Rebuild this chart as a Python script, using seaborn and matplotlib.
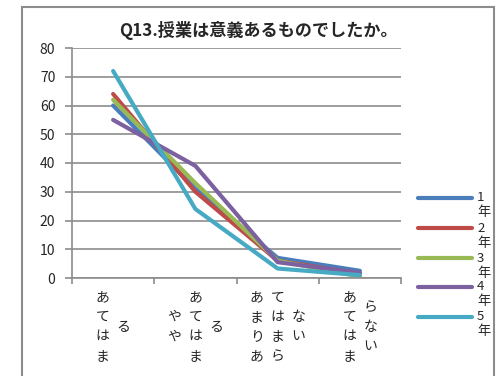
import numpy as np
import pandas as pd
import matplotlib
matplotlib.use("Agg")
import matplotlib.pyplot as plt
import seaborn as sns
from matplotlib.patches import Rectangle

# Survey answers (percent) per school year
categories = ["あてはまる", "ややあてはまる", "あまりあてはまらない", "あてはまらない"]
# how each category label wraps into vertical columns (left to right)
label_columns = [["あてはま", "る"],
                 ["やや", "あてはま", "る"],
                 ["あまりあ", "てはまら", "ない"],
                 ["あてはま", "らない"]]
years = ["1年", "2年", "3年", "4年", "5年"]
year1 = [60, 31, 7, 2.5]
year2 = [64, 30, 6, 1.5]
year3 = [62, 33, 6, 0.5]
year4 = [55, 39, 5.5, 1.8]
year5 = [72, 24, 3.3, 1]
colors = ["#4A7EBB", "#BE4B48", "#98B954", "#7D60A0", "#46AAC5"]

rows = []
for yr, vals in zip(years, [year1, year2, year3, year4, year5]):
    for i, v in enumerate(vals):
        rows.append({"year": yr, "pos": i, "value": v})
df = pd.DataFrame(rows)

sns.set_style("white")
plt.rcParams['font.family'] = ['Noto Sans CJK JP', 'DejaVu Sans']

fig = plt.figure(figsize=(5.04, 3.76), dpi=100)
ax = fig.add_axes([72 / 504, 1 - 278 / 376, (401 - 72) / 504, (278 - 48) / 376])

grid_c = "#8c8c8c"
ax.set_ylim(0, 80)
ax.set_yticks(range(0, 81, 10))
ax.yaxis.grid(True, color=grid_c, lw=1.2)
ax.set_axisbelow(True)

sns.lineplot(data=df, x="pos", y="value", hue="year", palette=colors,
             lw=3, ax=ax, legend=False, sort=False)

ax.set_xlim(-0.5, 3.5)
ax.set_xticks([-0.5, 0.5, 1.5, 2.5, 3.5])
ax.set_xticklabels([])
ax.set_xlabel("")
ax.set_ylabel("")
for s in ["top", "right"]:
    ax.spines[s].set_visible(False)
for s in ["left", "bottom"]:
    ax.spines[s].set_color(grid_c)
    ax.spines[s].set_linewidth(1.2)
ax.tick_params(axis="x", direction="out", length=4, color=grid_c, width=1.2, bottom=True)
ax.tick_params(axis="y", direction="out", length=5, color=grid_c, width=1.2,
               left=True, labelsize=10, pad=7)

# vertical category labels
col_step = 15.1
for i, cols in enumerate(label_columns):
    n = len(cols)
    for j, col in enumerate(cols):
        dx = (j - (n - 1) / 2) * col_step
        ax.annotate("\n".join(col), xy=(i, 0), xycoords=ax.get_xaxis_transform(),
                    xytext=(dx, -35), textcoords="offset points",
                    ha="center", va="center", fontsize=10, linespacing=1.5,
                    annotation_clip=False)

# legend, drawn by hand so the line sits next to the first line of the label
leg_y = [198, 228, 258, 287, 317]
for c, yr, ly in zip(colors, years, leg_y):
    yf = 1 - ly / 376
    fig.add_artist(plt.Line2D([418 / 504, 472 / 504], [yf, yf], color=c, lw=3,
                              solid_capstyle="round"))
    fig.text(477 / 504, yf, yr[0], ha="left", va="center", fontsize=9.5)
    fig.text(477 / 504, yf - 15 / 376, yr[1], ha="left", va="center", fontsize=9.5)

fig.text(258 / 504, 1 - 30 / 376, "Q13.授業は意義あるものでしたか。",
         ha="center", va="center", fontsize=12.3, fontweight="bold")

fig.patches.append(Rectangle((22 / 504, -0.05), (494 - 22) / 504, 1.05 - 7 / 376,
                             transform=fig.transFigure, fill=False,
                             edgecolor="#8c8c8c", lw=1.5))

fig.savefig("out.png", dpi=100)
